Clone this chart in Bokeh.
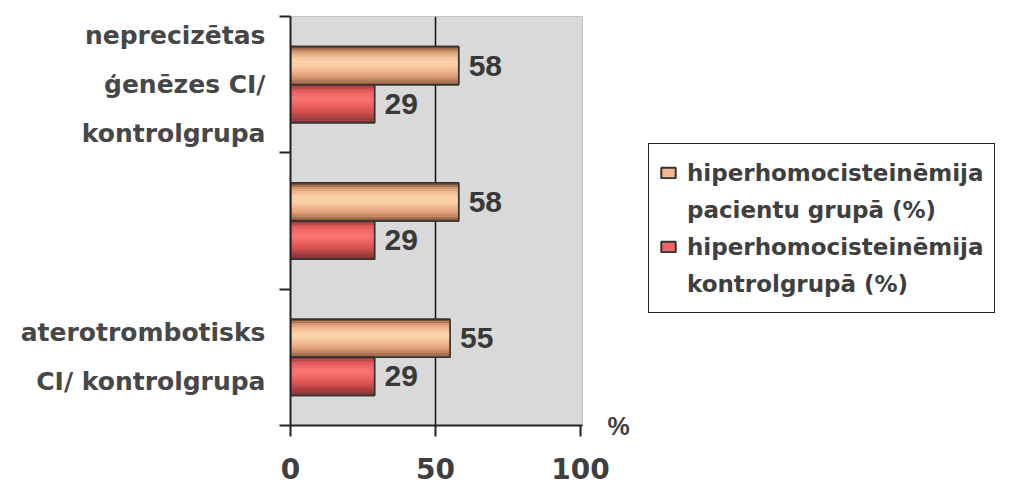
from bokeh.plotting import figure
from bokeh.layouts import row
from bokeh.models import (Range1d, FixedTicker, Legend, LegendItem,
                          LinearAxis, ColumnDataSource)
from bokeh.core.properties import value
from bokeh.embed import file_html
from bokeh.resources import INLINE
import numpy as np

# ---- data (top to bottom) ----
categories = ["neprecizētas\nģenēzes CI/\nkontrolgrupa", "",
              "aterotrombotisks\nCI/ kontrolgrupa"]
series_names = ["hiperhomocisteinēmija\npacientu grupā (%)",
                "hiperhomocisteinēmija\nkontrolgrupā (%)"]
patients = [58, 58, 55]
controls = [29, 29, 29]
x_ticks = [0, 50, 100]
unit_label = "%"

WIDE = "DejaVu Sans"
NARROW = "Liberation Sans"
TXT = "#3f3f3f"
EDGE = "#333333"

n = len(categories)
centers = [n - i - 0.5 for i in range(n)]
bar_h = 0.28
offsets = [0.14, -0.14]

p = figure(width=640, height=488, output_backend="svg", toolbar_location=None,
           x_range=Range1d(0, 100.7), y_range=Range1d(0, n),
           min_border_left=290, min_border_right=58,
           min_border_top=16, min_border_bottom=63)
p.background_fill_color = "#d9d9d9"
p.border_fill_color = "white"
p.outline_line_color = "#c4c4c4"

# grid: one vertical line at 50
p.ygrid.visible = False
p.xgrid.ticker = FixedTicker(ticks=[50])
p.xgrid.grid_line_color = "#111111"
p.xgrid.grid_line_width = 1.5

# x axis
xa = p.xaxis[0]
xa.ticker = FixedTicker(ticks=x_ticks, minor_ticks=[])
xa.axis_line_color = "#222222"
xa.axis_line_width = 2
xa.major_tick_line_color = "#222222"
xa.major_tick_line_width = 2
xa.major_tick_in = 0
xa.major_tick_out = 11
xa.major_label_standoff = 21
xa.major_label_text_font = WIDE
xa.major_label_text_font_style = "bold"
xa.major_label_text_font_size = "28px"
xa.major_label_text_color = TXT

# y axis: labels at category centres, tick marks at category boundaries
ya = p.yaxis[0]
ya.ticker = FixedTicker(ticks=centers, minor_ticks=list(range(n + 1)))
ya.major_label_overrides = {c: lab for c, lab in zip(centers, categories)}
ya.axis_line_color = "#222222"
ya.axis_line_width = 2
ya.major_tick_line_color = None
ya.major_tick_in = 0
ya.major_tick_out = 0
ya.minor_tick_line_color = "#222222"
ya.minor_tick_line_width = 2
ya.minor_tick_in = 0
ya.minor_tick_out = 11
ya.major_label_standoff = 14
ya.major_label_text_font = WIDE
ya.major_label_text_font_style = "bold"
ya.major_label_text_font_size = "25px"
ya.major_label_text_color = "#474747"
ya.major_label_text_line_height = 1.7

# unit sign at the right end of the value axis
ua = LinearAxis(ticker=FixedTicker(ticks=[0], minor_ticks=[]),
                major_label_overrides={0: unit_label})
ua.axis_line_color = None
ua.major_tick_line_color = None
ua.minor_tick_line_color = None
ua.major_tick_out = 0
ua.major_tick_in = 0
ua.major_label_standoff = 25
ua.major_label_text_font = NARROW
ua.major_label_text_font_style = "bold"
ua.major_label_text_font_size = "25px"
ua.major_label_text_color = TXT
p.add_layout(ua, "right")

# shaded bar colours, top edge to bottom edge
shades = [
    ["#7a5038", "#d89a72", "#f2be96", "#fcd4ae", "#fbd0a8", "#f2bd94",
     "#e3a67e", "#c98a64", "#8c5c42"],
    ["#923a3a", "#e05858", "#f46a6a", "#fb7676", "#f46868", "#e65a5a",
     "#cc4c4c", "#a84040", "#7a3434"],
]
base_colors = ["#f4b88e", "#f06464"]


def hex2rgb(h):
    return np.array([int(h[i:i + 2], 16) for i in (1, 3, 5)], dtype=float)


def ramp(stops, k):
    cols = np.array([hex2rgb(s) for s in stops])
    t = np.linspace(0, 1, k)
    pos = np.linspace(0, 1, len(stops))
    out = []
    for tt in t:
        rgb = [np.interp(tt, pos, cols[:, j]) for j in range(3)]
        out.append("#%02x%02x%02x" % tuple(int(round(v)) for v in rgb))
    return out


strips = 18
for s, values in enumerate([patients, controls]):
    ys = [c + offsets[s] for c in centers]
    p.hbar(y=ys, right=values, left=0, height=bar_h,
           fill_color=base_colors[s], line_color=EDGE, line_width=1.5)
    cols = ramp(shades[s], strips)
    dh = bar_h / strips
    for k in range(strips):
        yk = [y + bar_h / 2 - (k + 0.5) * dh for y in ys]
        p.hbar(y=yk, right=values, left=0, height=dh * 1.05,
               fill_color=cols[k], line_color=None)
    p.hbar(y=ys, right=values, left=0, height=bar_h,
           fill_color=None, line_color=EDGE, line_width=1.5)
    src = ColumnDataSource(dict(x=values, y=ys, t=[str(v) for v in values]))
    p.text(x="x", y="y", text="t", source=src, x_offset=10,
           text_align="left", text_baseline="middle",
           text_font=value(NARROW), text_font_style="bold",
           text_font_size="30px", text_color="#383838")

# ---- legend panel to the right of the chart ----
lg = figure(width=379, height=488, output_backend="svg", toolbar_location=None,
            x_range=Range1d(0, 1), y_range=Range1d(0, 1),
            x_axis_type=None, y_axis_type=None,
            min_border_left=0, min_border_right=0,
            min_border_top=16, min_border_bottom=63)
lg.grid.visible = False
lg.outline_line_color = None
lg.background_fill_color = "white"
lg.border_fill_color = "white"

items = []
for s, name in enumerate(series_names):
    first, second = name.split("\n")
    swatch = lg.hbar(y=[0.5], right=[1], left=0, height=0.1, visible=False,
                     fill_color=base_colors[s], line_color=EDGE, line_width=2)
    blank = lg.hbar(y=[0.5], right=[1], left=0, height=0.1, visible=False,
                    fill_alpha=0, line_alpha=0)
    items.append(LegendItem(label=first, renderers=[swatch]))
    items.append(LegendItem(label=second, renderers=[blank]))

legend = Legend(items=items, location=(8, 112),
                border_line_color="#222222", border_line_width=1.5,
                border_line_alpha=1.0,
                background_fill_color="white", background_fill_alpha=1,
                inactive_fill_alpha=0,
                label_text_font=WIDE, label_text_font_style="bold",
                label_text_font_size="23px", label_text_color=TXT,
                label_height=37, glyph_width=18, glyph_height=13,
                label_standoff=10, padding=10, spacing=0, margin=0)
lg.add_layout(legend, "center")

layout = row(p, lg)
open("out.html", "w").write(file_html(layout, INLINE))
